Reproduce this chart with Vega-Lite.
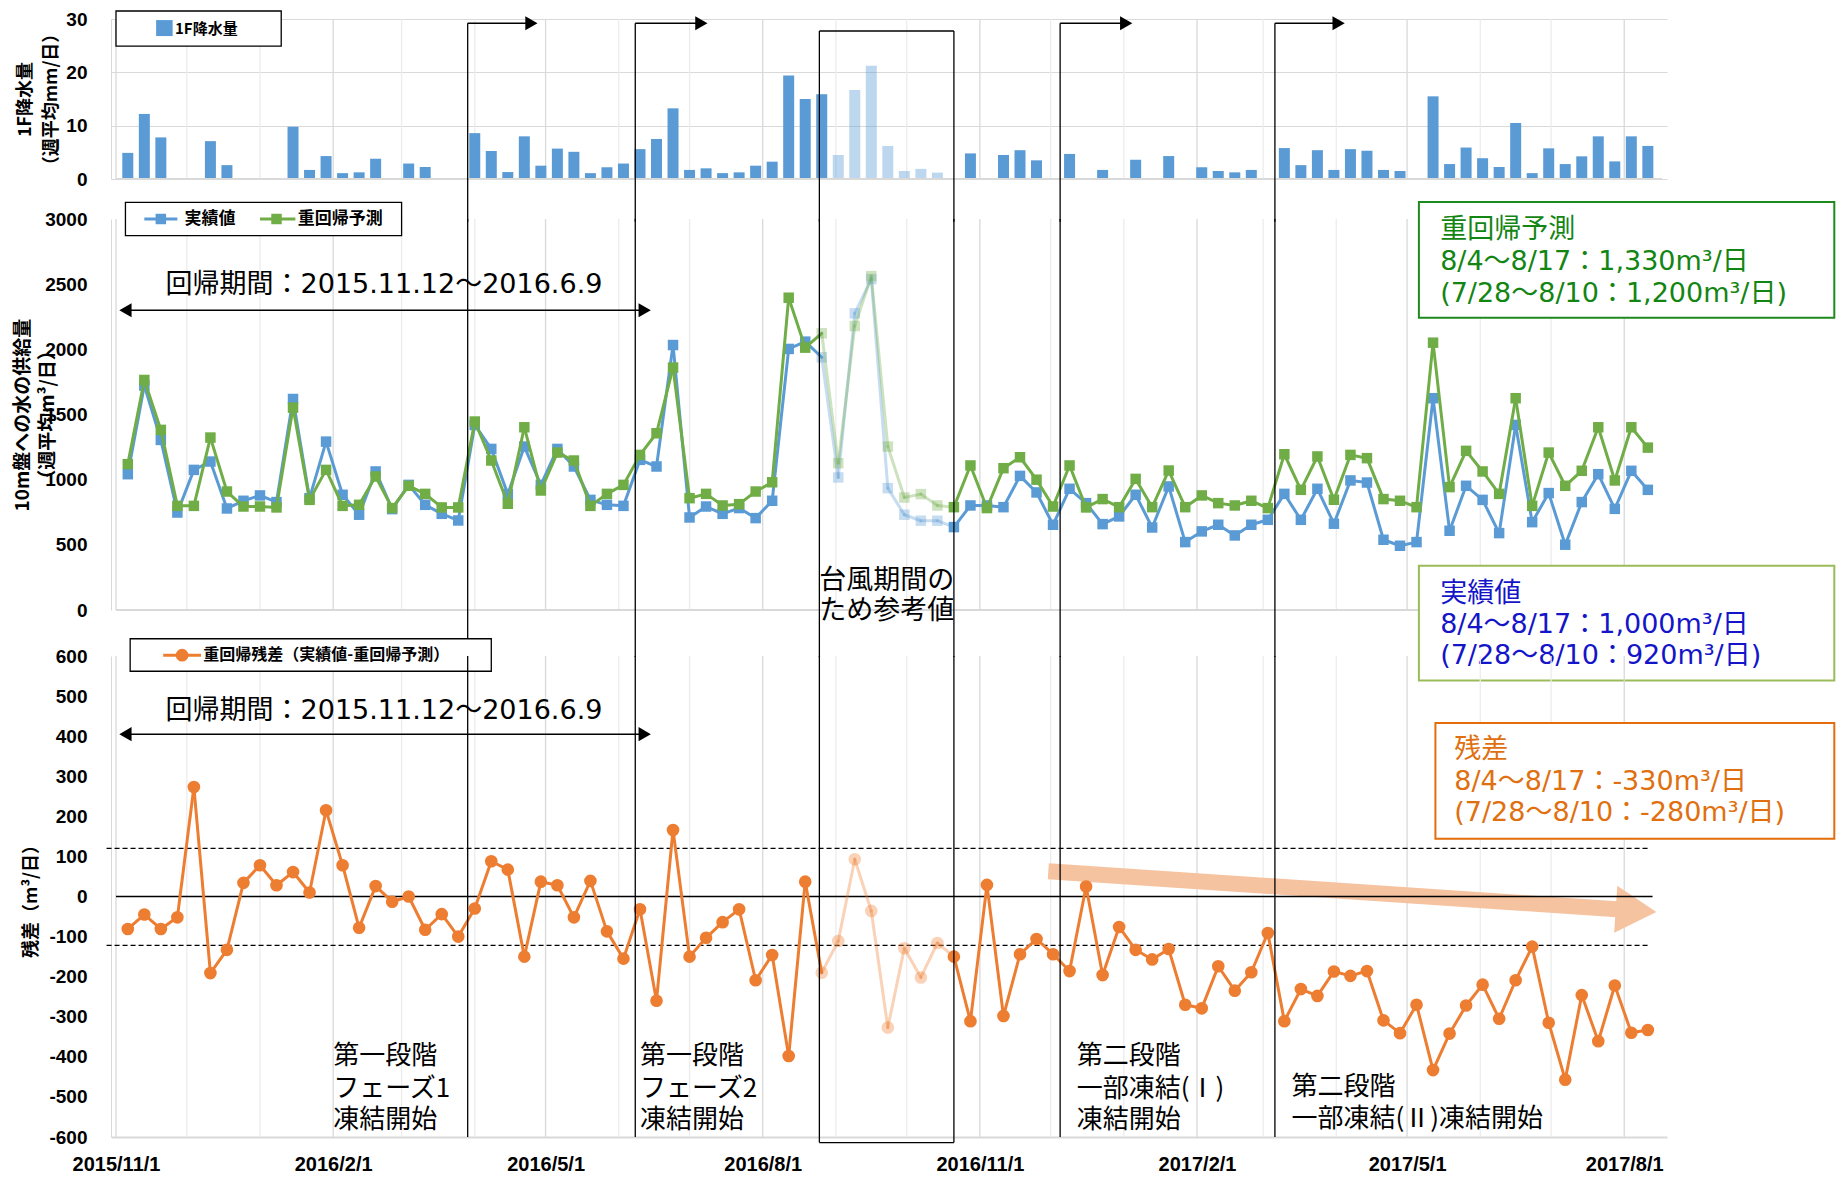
{
  "$schema": "https://vega.github.io/schema/vega-lite/v6.json",
  "width": 1556,
  "height": 1118,
  "autosize": {"type": "none"},
  "padding": {"left": 111, "top": 19, "right": 174, "bottom": 40},
  "background": "white",
  "config": {"view": {"stroke": null}, "font": "Noto Sans CJK JP", "axis": {"labelOverlap": false}},
  "datasets": {
    "weekly": [
      {"date":"2015-11-06","rain":4.9,"actual":1042,"pred":1119,"resid":-81,"ref":0},
      {"date":"2015-11-13","rain":12.2,"actual":1722,"pred":1765,"resid":-45,"ref":0},
      {"date":"2015-11-20","rain":7.8,"actual":1305,"pred":1382,"resid":-81,"ref":0},
      {"date":"2015-11-27","rain":null,"actual":748,"pred":799,"resid":-52,"ref":0},
      {"date":"2015-12-04","rain":null,"actual":1075,"pred":799,"resid":273,"ref":0},
      {"date":"2015-12-11","rain":7.1,"actual":1139,"pred":1323,"resid":-191,"ref":0},
      {"date":"2015-12-18","rain":2.6,"actual":779,"pred":909,"resid":-133,"ref":0},
      {"date":"2015-12-25","rain":null,"actual":838,"pred":794,"resid":34,"ref":0},
      {"date":"2016-01-01","rain":null,"actual":879,"pred":794,"resid":78,"ref":0},
      {"date":"2016-01-08","rain":null,"actual":828,"pred":787,"resid":28,"ref":0},
      {"date":"2016-01-15","rain":9.8,"actual":1619,"pred":1553,"resid":61,"ref":0},
      {"date":"2016-01-22","rain":1.7,"actual":858,"pred":845,"resid":10,"ref":0},
      {"date":"2016-01-29","rain":4.3,"actual":1292,"pred":1075,"resid":215,"ref":0},
      {"date":"2016-02-05","rain":1.1,"actual":884,"pred":799,"resid":78,"ref":0},
      {"date":"2016-02-12","rain":1.25,"actual":731,"pred":807,"resid":-78,"ref":0},
      {"date":"2016-02-19","rain":3.8,"actual":1063,"pred":1024,"resid":26,"ref":0},
      {"date":"2016-02-26","rain":null,"actual":774,"pred":782,"resid":-13,"ref":0},
      {"date":"2016-03-04","rain":2.9,"actual":960,"pred":953,"resid":0,"ref":0},
      {"date":"2016-03-11","rain":2.25,"actual":807,"pred":891,"resid":-83,"ref":0},
      {"date":"2016-03-18","rain":null,"actual":738,"pred":787,"resid":-44,"ref":0},
      {"date":"2016-03-25","rain":null,"actual":687,"pred":787,"resid":-100,"ref":0},
      {"date":"2016-04-01","rain":8.6,"actual":1420,"pred":1446,"resid":-30,"ref":0},
      {"date":"2016-04-08","rain":5.25,"actual":1236,"pred":1147,"resid":88,"ref":0},
      {"date":"2016-04-15","rain":1.3,"actual":889,"pred":815,"resid":67,"ref":0},
      {"date":"2016-04-22","rain":8.0,"actual":1254,"pred":1402,"resid":-150,"ref":0},
      {"date":"2016-04-29","rain":2.5,"actual":960,"pred":917,"resid":37,"ref":0},
      {"date":"2016-05-06","rain":5.7,"actual":1236,"pred":1208,"resid":28,"ref":0},
      {"date":"2016-05-13","rain":5.1,"actual":1101,"pred":1147,"resid":-52,"ref":0},
      {"date":"2016-05-20","rain":1.1,"actual":845,"pred":799,"resid":39,"ref":0},
      {"date":"2016-05-27","rain":2.2,"actual":807,"pred":891,"resid":-87,"ref":0},
      {"date":"2016-06-03","rain":2.9,"actual":799,"pred":960,"resid":-155,"ref":0},
      {"date":"2016-06-10","rain":5.6,"actual":1152,"pred":1190,"resid":-32,"ref":0},
      {"date":"2016-06-17","rain":7.5,"actual":1101,"pred":1356,"resid":-260,"ref":0},
      {"date":"2016-06-24","rain":13.25,"actual":2033,"pred":1860,"resid":166,"ref":0},
      {"date":"2016-07-01","rain":1.7,"actual":710,"pred":858,"resid":-150,"ref":0},
      {"date":"2016-07-08","rain":2.0,"actual":794,"pred":891,"resid":-103,"ref":0},
      {"date":"2016-07-15","rain":1.1,"actual":738,"pred":802,"resid":-64,"ref":0},
      {"date":"2016-07-22","rain":1.25,"actual":782,"pred":812,"resid":-32,"ref":0},
      {"date":"2016-07-29","rain":2.5,"actual":705,"pred":909,"resid":-209,"ref":0},
      {"date":"2016-08-05","rain":3.25,"actual":838,"pred":980,"resid":-146,"ref":0},
      {"date":"2016-08-12","rain":19.4,"actual":2003,"pred":2396,"resid":-398,"ref":0},
      {"date":"2016-08-19","rain":15.0,"actual":2059,"pred":2013,"resid":37,"ref":0},
      {"date":"2016-08-26","rain":15.9,"actual":1939,"pred":2123,"resid":-190,"ref":2},
      {"date":"2016-09-02","rain":4.5,"actual":1017,"pred":1126,"resid":-111,"ref":1},
      {"date":"2016-09-09","rain":16.7,"actual":2276,"pred":2179,"resid":93,"ref":1},
      {"date":"2016-09-16","rain":21.25,"actual":2539,"pred":2562,"resid":-36,"ref":1},
      {"date":"2016-09-23","rain":6.2,"actual":935,"pred":1254,"resid":-327,"ref":1},
      {"date":"2016-09-30","rain":1.5,"actual":731,"pred":863,"resid":-129,"ref":1},
      {"date":"2016-10-07","rain":1.9,"actual":685,"pred":889,"resid":-202,"ref":1},
      {"date":"2016-10-14","rain":1.2,"actual":685,"pred":802,"resid":-116,"ref":1},
      {"date":"2016-10-21","rain":null,"actual":636,"pred":789,"resid":-150,"ref":0},
      {"date":"2016-10-28","rain":4.8,"actual":802,"pred":1109,"resid":-311,"ref":0},
      {"date":"2016-11-04","rain":null,"actual":802,"pred":782,"resid":29,"ref":0},
      {"date":"2016-11-11","rain":4.5,"actual":789,"pred":1088,"resid":-298,"ref":0},
      {"date":"2016-11-18","rain":5.4,"actual":1029,"pred":1172,"resid":-144,"ref":0},
      {"date":"2016-11-25","rain":3.5,"actual":902,"pred":1000,"resid":-106,"ref":0},
      {"date":"2016-12-02","rain":null,"actual":654,"pred":794,"resid":-144,"ref":0},
      {"date":"2016-12-09","rain":4.7,"actual":930,"pred":1109,"resid":-186,"ref":0},
      {"date":"2016-12-16","rain":null,"actual":820,"pred":787,"resid":25,"ref":0},
      {"date":"2016-12-23","rain":1.7,"actual":659,"pred":851,"resid":-196,"ref":0},
      {"date":"2016-12-30","rain":null,"actual":718,"pred":789,"resid":-76,"ref":0},
      {"date":"2017-01-06","rain":3.6,"actual":884,"pred":1006,"resid":-133,"ref":0},
      {"date":"2017-01-13","rain":null,"actual":633,"pred":789,"resid":-157,"ref":0},
      {"date":"2017-01-20","rain":4.3,"actual":948,"pred":1070,"resid":-131,"ref":0},
      {"date":"2017-01-27","rain":null,"actual":521,"pred":789,"resid":-270,"ref":0},
      {"date":"2017-02-03","rain":2.2,"actual":603,"pred":879,"resid":-279,"ref":0},
      {"date":"2017-02-10","rain":1.5,"actual":654,"pred":820,"resid":-174,"ref":0},
      {"date":"2017-02-17","rain":1.25,"actual":572,"pred":802,"resid":-235,"ref":0},
      {"date":"2017-02-24","rain":1.7,"actual":654,"pred":838,"resid":-189,"ref":0},
      {"date":"2017-03-03","rain":null,"actual":692,"pred":782,"resid":-91,"ref":0},
      {"date":"2017-03-10","rain":5.8,"actual":891,"pred":1195,"resid":-311,"ref":0},
      {"date":"2017-03-17","rain":2.6,"actual":692,"pred":922,"resid":-231,"ref":0},
      {"date":"2017-03-24","rain":5.4,"actual":930,"pred":1178,"resid":-248,"ref":0},
      {"date":"2017-03-31","rain":1.7,"actual":662,"pred":846,"resid":-187,"ref":0},
      {"date":"2017-04-07","rain":5.6,"actual":994,"pred":1190,"resid":-198,"ref":0},
      {"date":"2017-04-14","rain":5.3,"actual":978,"pred":1165,"resid":-186,"ref":0},
      {"date":"2017-04-21","rain":1.7,"actual":539,"pred":851,"resid":-309,"ref":0},
      {"date":"2017-04-28","rain":1.5,"actual":493,"pred":838,"resid":-341,"ref":0},
      {"date":"2017-05-05","rain":null,"actual":521,"pred":789,"resid":-270,"ref":0},
      {"date":"2017-05-12","rain":15.5,"actual":1625,"pred":2051,"resid":-433,"ref":0},
      {"date":"2017-05-19","rain":2.8,"actual":608,"pred":943,"resid":-342,"ref":0},
      {"date":"2017-05-26","rain":5.9,"actual":953,"pred":1221,"resid":-272,"ref":0},
      {"date":"2017-06-02","rain":3.9,"actual":845,"pred":1063,"resid":-220,"ref":0},
      {"date":"2017-06-09","rain":2.25,"actual":590,"pred":891,"resid":-305,"ref":0},
      {"date":"2017-06-16","rain":10.5,"actual":1420,"pred":1625,"resid":-209,"ref":0},
      {"date":"2017-06-23","rain":1.1,"actual":674,"pred":799,"resid":-125,"ref":0},
      {"date":"2017-06-30","rain":5.75,"actual":897,"pred":1208,"resid":-315,"ref":0},
      {"date":"2017-07-07","rain":2.8,"actual":501,"pred":953,"resid":-457,"ref":0},
      {"date":"2017-07-14","rain":4.25,"actual":828,"pred":1068,"resid":-246,"ref":0},
      {"date":"2017-07-21","rain":8.0,"actual":1042,"pred":1402,"resid":-361,"ref":0},
      {"date":"2017-07-28","rain":3.3,"actual":776,"pred":994,"resid":-222,"ref":0},
      {"date":"2017-08-04","rain":8.0,"actual":1068,"pred":1402,"resid":-340,"ref":0},
      {"date":"2017-08-11","rain":6.2,"actual":922,"pred":1246,"resid":-333,"ref":0}
    ],
    "months": [
      {"date":"2015-11-01"},{"date":"2015-12-01"},{"date":"2016-01-01"},{"date":"2016-02-01"},{"date":"2016-03-01"},{"date":"2016-04-01"},
      {"date":"2016-05-01"},{"date":"2016-06-01"},{"date":"2016-07-01"},{"date":"2016-08-01"},{"date":"2016-09-01"},{"date":"2016-10-01"},
      {"date":"2016-11-01"},{"date":"2016-12-01"},{"date":"2017-01-01"},{"date":"2017-02-01"},{"date":"2017-03-01"},{"date":"2017-04-01"},
      {"date":"2017-05-01"},{"date":"2017-06-01"},{"date":"2017-07-01"},{"date":"2017-08-01"}
    ],
    "phases": [
      {"date":"2016-03-29","tip":"2016-04-25"},
      {"date":"2016-06-08","tip":"2016-07-06"},
      {"date":"2016-12-05","tip":"2017-01-02"},
      {"date":"2017-03-06","tip":"2017-04-02"}
    ],
    "typhoon": [{"date":"2016-08-25"},{"date":"2016-10-21"}],
    "typhoonSpan": [{"date":"2016-08-25","date2":"2016-10-21"}],
    "fullSpan": [{"date":"2015-11-01","date2":"2017-08-17"}]
  },
  "encoding": {
    "x": {"field": "date", "type": "temporal",
      "scale": {"type": "utc", "domain": [{"year":2015,"month":11,"date":1,"utc":true},{"year":2017,"month":8,"date":17,"utc":true}], "nice": false},
      "axis": {"title": null, "grid": false, "ticks": false, "domainColor": "#d9d9d9", "domainWidth": 2,
        "tickCount": {"interval": "month", "step": 1},
        "labelExpr": "utcmonth(datum.value) % 3 === 1 ? utcFormat(datum.value, '%Y/%-m/%-d') : ''",
        "labelFont": "Liberation Sans", "labelFontWeight": "bold", "labelFontSize": 20, "labelColor": "black", "labelPadding": 17, "labelOverlap": false, "labelFlush": false, "labelBound": false}}
  },
  "resolve": {"scale": {"y": "independent"}, "axis": {"y": "independent"}},
  "layer": [
    {
      "layer": [
        {
          "data": {"values": [5, 15, 25]},
          "mark": {"type": "rule", "strokeWidth": 1.2, "color": "#efefef"},
          "encoding": {"x": {"datum": {"year":2015,"month":11,"date":1,"utc":true}, "type": "temporal"}, "x2": {"datum": {"year":2017,"month":8,"date":17,"utc":true}}, "y": {"field": "data", "type": "quantitative"}}
        },
        {
          "data": {"name": "months"},
          "mark": {"type": "rule", "strokeWidth": 1.3},
          "encoding": {
            "y": {"datum": 30, "type": "quantitative"}, "y2": {"datum": 0},
            "color": {"condition": {"test": "utcmonth(datum.date) % 3 === 1", "value": "#d9d9d9"}, "value": "#ececec"}
          }
        },
        {
          "data": {"name": "weekly"},
          "mark": {"type": "bar", "size": 11, "color": "#5B9BD5"},
          "encoding": {
            "y": {"field": "rain", "type": "quantitative",
              "scale": {"domain": [0, 30], "range": [160, 0], "nice": false, "zero": false},
              "axis": {"orient": "left", "title": ["1F降水量", "（週平均mm/日）"], "titleFont": "Noto Sans CJK JP", "titleFontWeight": "bold", "titleFontSize": 18, "titleColor": "black", "titleLineHeight": 26, "titleX": -86, "titleY": 80, "titleAngle": -90, "titleBaseline": "middle", "titleAlign": "center",
                "values": [0,10,20,30], "labelOverlap": false, "labelExpr": "'' + datum.value",
                "labelFont": "Liberation Sans", "labelFontWeight": "bold", "labelFontSize": 19, "labelColor": "black", "labelPadding": 24, "ticks": false, "domainColor": "#d9d9d9",
                "gridColor": "#d9d9d9", "gridWidth": 1.2}},
            "opacity": {"condition": {"test": "datum.ref === 1", "value": 0.4}, "value": 1}
          }
        },
        {
          "data": {"name": "fullSpan"},
          "mark": {"type": "rule", "strokeWidth": 2, "color": "#d9d9d9"},
          "encoding": {"x2": {"field": "date2"}, "y": {"datum": 0, "type": "quantitative"}}
        },
        {
          "data": {"values": [{"date": "2015-11-01", "date2": "2016-01-10"}]},
          "mark": {"type": "rect", "fill": "white", "stroke": "black", "strokeWidth": 1.3},
          "encoding": {"x2": {"field": "date2"}, "y": {"datum": 31.5, "type": "quantitative"}, "y2": {"datum": 24.9}}
        },
        {
          "data": {"values": [{"date": "2015-11-18", "date2": "2015-11-25"}]},
          "mark": {"type": "rect", "fill": "#5B9BD5"},
          "encoding": {"x2": {"field": "date2"}, "y": {"datum": 29.8, "type": "quantitative"}, "y2": {"datum": 26.8}}
        },
        {
          "data": {"values": [{"date": "2015-11-26", "t": "1F降水量"}]},
          "mark": {"type": "text", "align": "left", "baseline": "middle", "font": "Noto Sans CJK JP", "fontWeight": "bold", "fontSize": 15, "color": "black"},
          "encoding": {"y": {"datum": 28.1, "type": "quantitative"}, "text": {"field": "t"}}
        },
        {
          "data": {"name": "phases"},
          "mark": {"type": "rule", "strokeWidth": 1.3, "color": "black"},
          "encoding": {"y": {"datum": 29.2, "type": "quantitative"}, "y2": {"datum": -8}}
        },
        {
          "data": {"name": "phases"},
          "mark": {"type": "rule", "strokeWidth": 1.3, "color": "black"},
          "encoding": {"x2": {"field": "tip"}, "y": {"datum": 29.2, "type": "quantitative"}}
        },
        {
          "data": {"name": "phases"},
          "mark": {"type": "point", "shape": "triangle-right", "filled": true, "size": 200, "color": "black", "opacity": 1},
          "encoding": {"x": {"field": "tip", "type": "temporal"}, "y": {"datum": 29.2, "type": "quantitative"}}
        },
        {
          "data": {"name": "typhoon"},
          "mark": {"type": "rule", "strokeWidth": 1.3, "color": "black"},
          "encoding": {"y": {"datum": 27.75, "type": "quantitative"}, "y2": {"datum": -8}}
        },
        {
          "data": {"name": "typhoonSpan"},
          "mark": {"type": "rule", "strokeWidth": 1.3, "color": "black"},
          "encoding": {"x2": {"field": "date2"}, "y": {"datum": 27.75, "type": "quantitative"}}
        }
      ]
    },
    {
      "layer": [
        {
          "data": {"values": [100,200,300,400,600,700,800,900,1100,1200,1300,1400,1600,1700,1800,1900,2100,2200,2300,2400,2600,2700,2800,2900]},
          "mark": {"type": "rule", "strokeWidth": 1.2, "color": "#efefef"},
          "encoding": {"x": {"datum": {"year":2015,"month":11,"date":1,"utc":true}, "type": "temporal"}, "x2": {"datum": {"year":2017,"month":8,"date":17,"utc":true}}, "y": {"field": "data", "type": "quantitative"}}
        },
        {
          "data": {"name": "months"},
          "mark": {"type": "rule", "strokeWidth": 1.3},
          "encoding": {
            "y": {"datum": 3000, "type": "quantitative"}, "y2": {"datum": 0},
            "color": {"condition": {"test": "utcmonth(datum.date) % 3 === 1", "value": "#d9d9d9"}, "value": "#ececec"}
          }
        },
        {
          "data": {"name": "fullSpan"},
          "mark": {"type": "rule", "strokeWidth": 2, "color": "#d9d9d9"},
          "encoding": {"x2": {"field": "date2"}, "y": {"datum": 0, "type": "quantitative"}}
        },
        {
          "data": {"name": "weekly"},
          "transform": [
            {"window": [{"op": "lag", "field": "date", "as": "pdate"}, {"op": "lag", "field": "actual", "as": "pv"}, {"op": "lag", "field": "ref", "as": "pref"}], "sort": [{"field": "date", "order": "ascending"}]},
            {"filter": "datum.pv != null"}
          ],
          "mark": {"type": "rule", "strokeWidth": 3, "strokeCap": "round", "color": "#5B9BD5"},
          "encoding": {
            "x2": {"field": "pdate"},
            "y": {"field": "actual", "type": "quantitative",
              "scale": {"domain": [0, 3000], "range": [591, 200], "nice": false, "zero": false},
              "axis": {"orient": "left", "title": ["10m盤への水の供給量", "（週平均m³/日）"], "titleFont": "Noto Sans CJK JP", "titleFontWeight": "bold", "titleFontSize": 19, "titleColor": "black", "titleLineHeight": 25, "titleX": -89, "titleY": 395.5, "titleAngle": -90, "titleBaseline": "middle", "titleAlign": "center",
                "values": [0,500,1000,1500,2000,2500,3000], "labelOverlap": false, "labelExpr": "'' + datum.value",
                "labelFont": "Liberation Sans", "labelFontWeight": "bold", "labelFontSize": 19, "labelColor": "black", "labelPadding": 24, "ticks": false, "domainColor": "#d9d9d9",
                "gridColor": "#d9d9d9", "gridWidth": 1.2}},
            "y2": {"field": "pv"},
            "opacity": {"condition": {"test": "datum.pref > 0", "value": 0.35}, "value": 1}
          }
        },
        {
          "data": {"name": "weekly"},
          "mark": {"type": "point", "shape": "square", "filled": true, "size": 110, "color": "#5B9BD5"},
          "encoding": {"y": {"field": "actual", "type": "quantitative"}, "opacity": {"condition": {"test": "datum.ref > 0", "value": 0.35}, "value": 1}}
        },
        {
          "data": {"name": "weekly"},
          "transform": [
            {"window": [{"op": "lag", "field": "date", "as": "pdate"}, {"op": "lag", "field": "pred", "as": "pv"}, {"op": "lag", "field": "ref", "as": "pref"}], "sort": [{"field": "date", "order": "ascending"}]},
            {"filter": "datum.pv != null"}
          ],
          "mark": {"type": "rule", "strokeWidth": 3, "strokeCap": "round", "color": "#70AD47"},
          "encoding": {
            "x2": {"field": "pdate"},
            "y": {"field": "pred", "type": "quantitative"},
            "y2": {"field": "pv"},
            "opacity": {"condition": {"test": "datum.pref > 0", "value": 0.35}, "value": 1}
          }
        },
        {
          "data": {"name": "weekly"},
          "mark": {"type": "point", "shape": "square", "filled": true, "size": 110, "color": "#70AD47"},
          "encoding": {"y": {"field": "pred", "type": "quantitative"}, "opacity": {"condition": {"test": "datum.ref > 0", "value": 0.35}, "value": 1}}
        },
        {
          "data": {"values": [{"date": "2015-11-05", "date2": "2016-03-01"}]},
          "mark": {"type": "rect", "fill": "white", "stroke": "black", "strokeWidth": 1.3},
          "encoding": {"x2": {"field": "date2"}, "y": {"datum": 3128, "type": "quantitative"}, "y2": {"datum": 2872}}
        },
        {
          "data": {"values": [{"date": "2015-11-13", "date2": "2015-11-27"}]},
          "mark": {"type": "rule", "strokeWidth": 3, "color": "#5B9BD5"},
          "encoding": {"x2": {"field": "date2"}, "y": {"datum": 3000, "type": "quantitative"}}
        },
        {
          "data": {"values": [{"date": "2016-01-01", "date2": "2016-01-16"}]},
          "mark": {"type": "rule", "strokeWidth": 3, "color": "#70AD47"},
          "encoding": {"x2": {"field": "date2"}, "y": {"datum": 3000, "type": "quantitative"}}
        },
        {
          "data": {"values": [{"date": "2015-11-20"}]},
          "mark": {"type": "point", "shape": "square", "filled": true, "size": 110, "opacity": 1, "color": "#5B9BD5"},
          "encoding": {"y": {"datum": 3000, "type": "quantitative"}}
        },
        {
          "data": {"values": [{"date": "2016-01-08"}]},
          "mark": {"type": "point", "shape": "square", "filled": true, "size": 110, "opacity": 1, "color": "#70AD47"},
          "encoding": {"y": {"datum": 3000, "type": "quantitative"}}
        },
        {
          "data": {"values": [{"date": "2015-11-30", "t": "実績値"}, {"date": "2016-01-17", "t": "重回帰予測"}]},
          "mark": {"type": "text", "align": "left", "baseline": "middle", "font": "Noto Sans CJK JP", "fontWeight": "bold", "fontSize": 17, "color": "black"},
          "encoding": {"y": {"datum": 3000, "type": "quantitative"}, "text": {"field": "t"}}
        },
        {
          "data": {"values": [{"date": "2015-11-05", "date2": "2016-06-12"}]},
          "mark": {"type": "rule", "strokeWidth": 1.5, "color": "black"},
          "encoding": {"x2": {"field": "date2"}, "y": {"datum": 2300, "type": "quantitative"}}
        },
        {
          "data": {"values": [{"date": "2015-11-05", "s": "triangle-left"}, {"date": "2016-06-12", "s": "triangle-right"}]},
          "mark": {"type": "point", "filled": true, "size": 200, "color": "black", "opacity": 1},
          "encoding": {"y": {"datum": 2300, "type": "quantitative"}, "shape": {"field": "s", "type": "nominal", "scale": null, "legend": null}}
        },
        {
          "data": {"values": [{"date": "2015-11-22", "t": "回帰期間：2015.11.12～2016.6.9"}]},
          "mark": {"type": "text", "align": "left", "baseline": "middle", "font": "DejaVu Sans, Noto Sans CJK JP", "fontSize": 27, "color": "black"},
          "encoding": {"y": {"datum": 2490, "type": "quantitative"}, "text": {"field": "t"}}
        },
        {
          "data": {"name": "phases"},
          "mark": {"type": "rule", "strokeWidth": 1.3, "color": "black"},
          "encoding": {"y": {"datum": 3000, "type": "quantitative"}, "y2": {"datum": -360}}
        },
        {
          "data": {"name": "typhoon"},
          "mark": {"type": "rule", "strokeWidth": 1.3, "color": "black"},
          "encoding": {"y": {"datum": 3000, "type": "quantitative"}, "y2": {"datum": -360}}
        },
        {
          "data": {"values": [{"date": "2016-08-25", "v": 219, "t": "台風期間の"}, {"date": "2016-08-25", "v": -11, "t": "ため参考値"}]},
          "mark": {"type": "text", "align": "left", "baseline": "middle", "font": "Noto Sans CJK JP", "fontSize": 27, "color": "black"},
          "encoding": {"y": {"field": "v", "type": "quantitative"}, "text": {"field": "t"}}
        },
        {
          "data": {"values": [{"date": "2017-05-06", "date2": "2017-10-29"}]},
          "mark": {"type": "rect", "fill": "white", "stroke": "#1E8A1E", "strokeWidth": 2},
          "encoding": {"x2": {"field": "date2"}, "y": {"datum": 3130, "type": "quantitative"}, "y2": {"datum": 2243}}
        },
        {
          "data": {"values": [{"date": "2017-05-15", "v": 2919, "t": "重回帰予測"}, {"date": "2017-05-15", "v": 2667, "t": "8/4～8/17：1,330m³/日"}, {"date": "2017-05-15", "v": 2421, "t": "(7/28～8/10：1,200m³/日)"}]},
          "mark": {"type": "text", "align": "left", "baseline": "middle", "font": "DejaVu Sans, Noto Sans CJK JP", "fontSize": 27, "color": "#138513"},
          "encoding": {"y": {"field": "v", "type": "quantitative"}, "text": {"field": "t"}}
        },
        {
          "data": {"values": [{"date": "2017-05-06", "date2": "2017-10-29"}]},
          "mark": {"type": "rect", "fill": "white", "stroke": "#9BBB59", "strokeWidth": 2},
          "encoding": {"x2": {"field": "date2"}, "y": {"datum": 340, "type": "quantitative"}, "y2": {"datum": -541}}
        },
        {
          "data": {"values": [{"date": "2017-05-15", "v": 125, "t": "実績値"}, {"date": "2017-05-15", "v": -113, "t": "8/4～8/17：1,000m³/日"}, {"date": "2017-05-15", "v": -351, "t": "(7/28～8/10：920m³/日)"}]},
          "mark": {"type": "text", "align": "left", "baseline": "middle", "font": "DejaVu Sans, Noto Sans CJK JP", "fontSize": 27, "color": "#1414C8"},
          "encoding": {"y": {"field": "v", "type": "quantitative"}, "text": {"field": "t"}}
        }
      ]
    },
    {
      "layer": [
        {
          "data": {"values": [-580,-560,-540,-520,-480,-460,-440,-420,-380,-360,-340,-320,-280,-260,-240,-220,-180,-160,-140,-120,-80,-60,-40,-20,20,40,60,80,120,140,160,180,220,240,260,280,320,340,360,380,420,440,460,480,520,540,560,580]},
          "mark": {"type": "rule", "strokeWidth": 1.2, "color": "#efefef"},
          "encoding": {"x": {"datum": {"year":2015,"month":11,"date":1,"utc":true}, "type": "temporal"}, "x2": {"datum": {"year":2017,"month":8,"date":17,"utc":true}}, "y": {"field": "data", "type": "quantitative"}}
        },
        {
          "data": {"name": "months"},
          "mark": {"type": "rule", "strokeWidth": 1.3},
          "encoding": {
            "y": {"datum": 600, "type": "quantitative"}, "y2": {"datum": -600},
            "color": {"condition": {"test": "utcmonth(datum.date) % 3 === 1", "value": "#d9d9d9"}, "value": "#ececec"}
          }
        },
        {
          "data": {"values": [{"date": "2016-11-30", "date2": "2017-08-01", "v": 63, "v2": -33}]},
          "mark": {"type": "rule", "strokeWidth": 16, "color": "#F6C3A0", "strokeCap": "butt"},
          "encoding": {"x2": {"field": "date2"}, "y": {"field": "v", "type": "quantitative"}, "y2": {"field": "v2"}}
        },
        {
          "data": {"values": [{"date": "2017-08-06", "v": -35}]},
          "mark": {"type": "point", "shape": "triangle-right", "filled": true, "size": 2209, "angle": 3.8, "color": "#F6C3A0", "opacity": 1},
          "encoding": {"y": {"field": "v", "type": "quantitative"}}
        },
        {
          "data": {"values": [{"date": "2015-11-01", "date2": "2017-08-13", "v": 0}]},
          "mark": {"type": "rule", "strokeWidth": 1.3, "color": "black"},
          "encoding": {"x2": {"field": "date2"}, "y": {"field": "v", "type": "quantitative"}}
        },
        {
          "data": {"values": [{"date": "2015-10-28", "date2": "2017-08-12", "v": 120}, {"date": "2015-10-28", "date2": "2017-08-12", "v": -122}]},
          "mark": {"type": "rule", "strokeWidth": 1.3, "color": "black", "strokeDash": [5, 3]},
          "encoding": {"x2": {"field": "date2"}, "y": {"field": "v", "type": "quantitative"}}
        },
        {
          "data": {"name": "weekly"},
          "transform": [
            {"window": [{"op": "lag", "field": "date", "as": "pdate"}, {"op": "lag", "field": "resid", "as": "pv"}, {"op": "lag", "field": "ref", "as": "pref"}], "sort": [{"field": "date", "order": "ascending"}]},
            {"filter": "datum.pv != null"}
          ],
          "mark": {"type": "rule", "strokeWidth": 3, "strokeCap": "round", "color": "#ED7D31"},
          "encoding": {
            "x2": {"field": "pdate"},
            "y": {"field": "resid", "type": "quantitative",
              "scale": {"domain": [-600, 600], "range": [1118, 637], "nice": false, "zero": false},
              "axis": {"orient": "left", "title": "残差（m³/日）", "titleFont": "Noto Sans CJK JP", "titleFontWeight": "bold", "titleFontSize": 18, "titleColor": "black", "titleX": -80, "titleY": 877.5, "titleAngle": -90, "titleBaseline": "middle", "titleAlign": "center",
                "values": [-600,-500,-400,-300,-200,-100,0,100,200,300,400,500,600], "labelOverlap": false, "labelExpr": "'' + datum.value",
                "labelFont": "Liberation Sans", "labelFontWeight": "bold", "labelFontSize": 19, "labelColor": "black", "labelPadding": 24, "ticks": false, "domainColor": "#d9d9d9",
                "gridColor": "#d9d9d9", "gridWidth": 1.2}},
            "y2": {"field": "pv"},
            "opacity": {"condition": {"test": "datum.pref > 0", "value": 0.35}, "value": 1}
          }
        },
        {
          "data": {"name": "weekly"},
          "mark": {"type": "point", "shape": "circle", "filled": true, "size": 160, "color": "#ED7D31"},
          "encoding": {"y": {"field": "resid", "type": "quantitative"}, "opacity": {"condition": {"test": "datum.ref > 0", "value": 0.35}, "value": 1}}
        },
        {
          "data": {"values": [{"date": "2015-11-07", "date2": "2016-04-08"}]},
          "mark": {"type": "rect", "fill": "white", "stroke": "black", "strokeWidth": 1.3},
          "encoding": {"x2": {"field": "date2"}, "y": {"datum": 643, "type": "quantitative"}, "y2": {"datum": 562}}
        },
        {
          "data": {"values": [{"date": "2015-11-21", "date2": "2015-12-07"}]},
          "mark": {"type": "rule", "strokeWidth": 3, "color": "#ED7D31"},
          "encoding": {"x2": {"field": "date2"}, "y": {"datum": 602, "type": "quantitative"}}
        },
        {
          "data": {"values": [{"date": "2015-11-29"}]},
          "mark": {"type": "point", "shape": "circle", "filled": true, "size": 160, "color": "#ED7D31", "opacity": 1},
          "encoding": {"y": {"datum": 602, "type": "quantitative"}}
        },
        {
          "data": {"values": [{"date": "2015-12-08", "t": "重回帰残差（実績値-重回帰予測）"}]},
          "mark": {"type": "text", "align": "left", "baseline": "middle", "font": "Noto Sans CJK JP", "fontWeight": "bold", "fontSize": 16, "color": "black"},
          "encoding": {"y": {"datum": 602, "type": "quantitative"}, "text": {"field": "t"}}
        },
        {
          "data": {"values": [{"date": "2015-11-05", "date2": "2016-06-12"}]},
          "mark": {"type": "rule", "strokeWidth": 1.5, "color": "black"},
          "encoding": {"x2": {"field": "date2"}, "y": {"datum": 405, "type": "quantitative"}}
        },
        {
          "data": {"values": [{"date": "2015-11-05", "s": "triangle-left"}, {"date": "2016-06-12", "s": "triangle-right"}]},
          "mark": {"type": "point", "filled": true, "size": 200, "color": "black", "opacity": 1},
          "encoding": {"y": {"datum": 405, "type": "quantitative"}, "shape": {"field": "s", "type": "nominal", "scale": null, "legend": null}}
        },
        {
          "data": {"values": [{"date": "2015-11-22", "t": "回帰期間：2015.11.12～2016.6.9"}]},
          "mark": {"type": "text", "align": "left", "baseline": "middle", "font": "DejaVu Sans, Noto Sans CJK JP", "fontSize": 27, "color": "black"},
          "encoding": {"y": {"datum": 462, "type": "quantitative"}, "text": {"field": "t"}}
        },
        {
          "data": {"name": "phases"},
          "mark": {"type": "rule", "strokeWidth": 1.3, "color": "black"},
          "encoding": {"y": {"datum": 600, "type": "quantitative"}, "y2": {"datum": -600}}
        },
        {
          "data": {"name": "typhoon"},
          "mark": {"type": "rule", "strokeWidth": 1.3, "color": "black"},
          "encoding": {"y": {"datum": 600, "type": "quantitative"}, "y2": {"datum": -614}}
        },
        {
          "data": {"name": "typhoonSpan"},
          "mark": {"type": "rule", "strokeWidth": 1.3, "color": "black"},
          "encoding": {"x2": {"field": "date2"}, "y": {"datum": -614, "type": "quantitative"}}
        },
        {
          "data": {"values": [
            {"date": "2016-02-01", "v": -399, "t": "第一段階"},
            {"date": "2016-02-01", "v": -481, "t": "フェーズ1"},
            {"date": "2016-02-01", "v": -558, "t": "凍結開始"},
            {"date": "2016-06-10", "v": -399, "t": "第一段階"},
            {"date": "2016-06-10", "v": -481, "t": "フェーズ2"},
            {"date": "2016-06-10", "v": -558, "t": "凍結開始"},
            {"date": "2016-12-12", "v": -399, "t": "第二段階"},
            {"date": "2016-12-12", "v": -481, "t": "一部凍結(Ⅰ)"},
            {"date": "2016-12-12", "v": -558, "t": "凍結開始"},
            {"date": "2017-03-13", "v": -476, "t": "第二段階"},
            {"date": "2017-03-13", "v": -556, "t": "一部凍結(Ⅱ)凍結開始"}
          ]},
          "mark": {"type": "text", "align": "left", "baseline": "middle", "font": "Noto Sans CJK JP", "fontSize": 26, "color": "black"},
          "encoding": {"y": {"field": "v", "type": "quantitative"}, "text": {"field": "t"}}
        },
        {
          "data": {"values": [{"date": "2017-05-13", "date2": "2017-10-29"}]},
          "mark": {"type": "rect", "fill": "white", "stroke": "#E46C0A", "strokeWidth": 2},
          "encoding": {"x2": {"field": "date2"}, "y": {"datum": 433, "type": "quantitative"}, "y2": {"datum": 144}}
        },
        {
          "data": {"values": [{"date": "2017-05-21", "v": 365, "t": "残差"}, {"date": "2017-05-21", "v": 285, "t": "8/4～8/17：-330m³/日"}, {"date": "2017-05-21", "v": 208, "t": "(7/28～8/10：-280m³/日)"}]},
          "mark": {"type": "text", "align": "left", "baseline": "middle", "font": "DejaVu Sans, Noto Sans CJK JP", "fontSize": 27, "color": "#E0700F"},
          "encoding": {"y": {"field": "v", "type": "quantitative"}, "text": {"field": "t"}}
        }
      ]
    }
  ]
}
